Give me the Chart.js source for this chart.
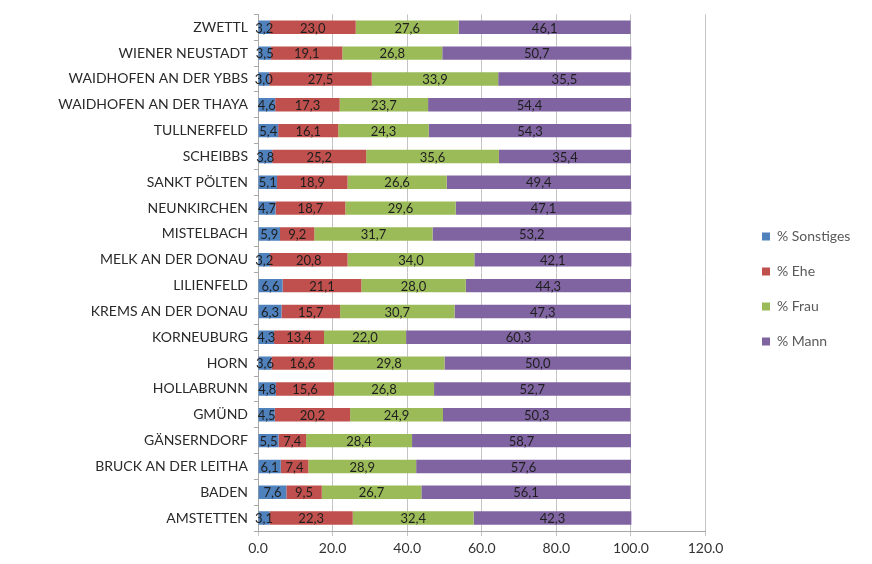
<!DOCTYPE html>
<html><head><meta charset="utf-8">
<script src="https://cdn.jsdelivr.net/npm/chart.js@4/dist/chart.umd.min.js"></script>
<style>html,body{margin:0;padding:0;background:#fff}#wrap{width:872px;height:564px}</style>
</head><body><div id="wrap"><canvas id="c" width="872" height="564"></canvas></div>
<script>
const categories = ["ZWETTL","WIENER NEUSTADT","WAIDHOFEN AN DER YBBS","WAIDHOFEN AN DER THAYA","TULLNERFELD","SCHEIBBS","SANKT PÖLTEN","NEUNKIRCHEN","MISTELBACH","MELK AN DER DONAU","LILIENFELD","KREMS AN DER DONAU","KORNEUBURG","HORN","HOLLABRUNN","GMÜND","GÄNSERNDORF","BRUCK AN DER LEITHA","BADEN","AMSTETTEN"];
const sonstiges = [3.2,3.5,3.0,4.6,5.4,3.8,5.1,4.7,5.9,3.2,6.6,6.3,4.3,3.6,4.8,4.5,5.5,6.1,7.6,3.1];
const ehe = [23.0,19.1,27.5,17.3,16.1,25.2,18.9,18.7,9.2,20.8,21.1,15.7,13.4,16.6,15.6,20.2,7.4,7.4,9.5,22.3];
const frau = [27.6,26.8,33.9,23.7,24.3,35.6,26.6,29.6,31.7,34.0,28.0,30.7,22.0,29.8,26.8,24.9,28.4,28.9,26.7,32.4];
const mann = [46.1,50.7,35.5,54.4,54.3,35.4,49.4,47.1,53.2,42.1,44.3,47.3,60.3,50.0,52.7,50.3,58.7,57.6,56.1,42.3];
const seriesNames = ["% Sonstiges","% Ehe","% Frau","% Mann"];
const xTicks = [0,20,40,60,80,100,120];

const FONT = "Lato, 'Open Sans', sans-serif";
const labelPlugin = {
  id: 'segLabels',
  afterLayout(chart) {
    if (chart.legend) {
      const w = chart.legend.right - chart.legend.left;
      chart.legend.left = 741;
      chart.legend.right = 741 + w;
    }
  },
  afterDatasetsDraw(chart) {
    const ctx = chart.ctx;
    ctx.save();
    ctx.font = "13px " + FONT;
    ctx.fillStyle = "#1e1e1e";
    ctx.textAlign = "center";
    ctx.textBaseline = "middle";
    chart.data.datasets.forEach((ds, i) => {
      const meta = chart.getDatasetMeta(i);
      meta.data.forEach((el, j) => {
        const v = ds.data[j];
        const cx = (el.x + el.base) / 2;
        ctx.fillText(v.toFixed(1).replace('.', ','), cx, el.y + 1);
      });
    });
    ctx.restore();
  }
};

const colors = ["#4F81BD","#C0504D","#9BBB59","#8064A2"];
const vals = [sonstiges, ehe, frau, mann];
new Chart(document.getElementById('c'), {
  type: 'bar',
  data: {
    labels: categories,
    datasets: seriesNames.map((n, i) => ({
      label: n, data: vals[i], backgroundColor: colors[i],
      barPercentage: 0.52, categoryPercentage: 1.0, borderWidth: 0
    }))
  },
  options: {
    indexAxis: 'y',
    responsive: false,
    animation: false,
    devicePixelRatio: 1,
    layout: { padding: { top: 14, left: 0, right: 47, bottom: 0 } },
    plugins: {
      legend: {
        position: 'right',
        labels: { boxWidth: 8, boxHeight: 8, padding: 21, color: '#595959', font: { family: FONT, size: 14 } }
      },
      tooltip: { enabled: false }
    },
    scales: {
      x: {
        stacked: true, min: 0, max: 120,
        afterBuildTicks: (ax) => { ax.ticks = xTicks.map(v => ({ value: v })); },
        afterFit: (s) => { s.height = 33; },
        ticks: { color: '#333', font: { family: FONT, size: 14 }, callback: (v) => Number(v).toFixed(1), padding: 4, maxRotation: 0 },
        grid: { color: '#c4c4c4', tickLength: 5 },
        border: { color: '#a8a8a8' }
      },
      y: {
        stacked: true,
        afterFit: (s) => { s.width = 258; },
        ticks: { color: '#2a2a2a', font: { family: FONT, size: 14 }, padding: 6 },
        grid: { offset: true, drawOnChartArea: false, tickLength: 4, color: '#a8a8a8' },
        border: { color: '#a8a8a8' }
      }
    }
  },
  plugins: [labelPlugin]
});
</script></body></html>
